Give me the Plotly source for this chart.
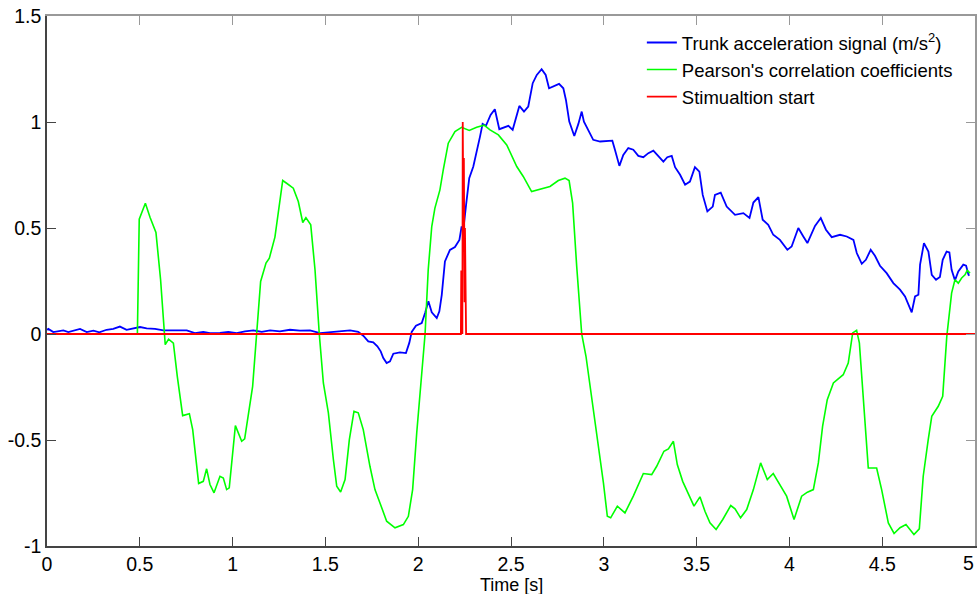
import plotly.graph_objects as go

# ---- data ----
t_blue = [0.0, 0.007, 0.034, 0.061, 0.088, 0.115, 0.142, 0.178, 0.214, 0.25, 0.282, 0.321, 0.357, 0.393, 0.429, 0.465, 0.501, 0.537, 0.582, 0.627, 0.672, 0.717, 0.753, 0.797, 0.842, 0.878, 0.932, 0.977, 1.022, 1.067, 1.112, 1.157, 1.202, 1.255, 1.309, 1.363, 1.417, 1.471, 1.525, 1.579, 1.633, 1.677, 1.704, 1.731, 1.758, 1.78, 1.798, 1.812, 1.83, 1.848, 1.866, 1.902, 1.934, 1.952, 1.965, 1.988, 2.019, 2.037, 2.055, 2.073, 2.1, 2.114, 2.127, 2.144, 2.171, 2.198, 2.222, 2.234, 2.243, 2.258, 2.275, 2.297, 2.315, 2.333, 2.347, 2.365, 2.39, 2.413, 2.437, 2.462, 2.486, 2.509, 2.531, 2.545, 2.57, 2.593, 2.617, 2.639, 2.665, 2.687, 2.705, 2.732, 2.759, 2.782, 2.796, 2.814, 2.841, 2.863, 2.881, 2.893, 2.917, 2.943, 2.98, 3.016, 3.046, 3.06, 3.084, 3.105, 3.132, 3.159, 3.186, 3.213, 3.24, 3.267, 3.294, 3.321, 3.342, 3.366, 3.384, 3.411, 3.438, 3.464, 3.491, 3.515, 3.533, 3.558, 3.587, 3.599, 3.63, 3.662, 3.707, 3.752, 3.785, 3.806, 3.833, 3.856, 3.886, 3.913, 3.949, 3.989, 4.012, 4.048, 4.075, 4.097, 4.138, 4.169, 4.197, 4.228, 4.273, 4.309, 4.345, 4.363, 4.39, 4.412, 4.438, 4.461, 4.488, 4.524, 4.56, 4.596, 4.623, 4.641, 4.659, 4.677, 4.695, 4.704, 4.725, 4.749, 4.767, 4.79, 4.811, 4.826, 4.847, 4.862, 4.874, 4.892, 4.91, 4.937, 4.952, 4.965, 4.97]
v_blue = [0.02, 0.024, 0.009, 0.014, 0.017, 0.009, 0.017, 0.024, 0.009, 0.016, 0.008, 0.02, 0.024, 0.035, 0.02, 0.027, 0.033, 0.027, 0.024, 0.017, 0.017, 0.014, 0.017, 0.004, 0.01, 0.004, 0.005, 0.01, 0.004, 0.012, 0.017, 0.01, 0.017, 0.012, 0.02, 0.016, 0.017, 0.004, 0.008, 0.012, 0.017, 0.01, -0.008, -0.035, -0.039, -0.058, -0.082, -0.113, -0.137, -0.129, -0.093, -0.087, -0.09, -0.042, 0.01, 0.039, 0.052, 0.099, 0.154, 0.102, 0.075, 0.107, 0.185, 0.342, 0.397, 0.41, 0.444, 0.507, 0.49, 0.609, 0.735, 0.79, 0.869, 0.931, 0.991, 0.982, 1.033, 1.06, 0.966, 0.975, 0.982, 0.963, 1.025, 1.076, 1.049, 1.073, 1.183, 1.222, 1.249, 1.222, 1.159, 1.17, 1.18, 1.159, 1.104, 1.002, 0.934, 0.991, 1.049, 1.002, 0.963, 0.916, 0.908, 0.912, 0.912, 0.869, 0.793, 0.845, 0.877, 0.869, 0.84, 0.834, 0.853, 0.865, 0.837, 0.813, 0.834, 0.84, 0.787, 0.751, 0.704, 0.719, 0.787, 0.766, 0.656, 0.578, 0.601, 0.656, 0.667, 0.601, 0.562, 0.57, 0.547, 0.62, 0.646, 0.539, 0.515, 0.468, 0.444, 0.397, 0.413, 0.5, 0.46, 0.429, 0.51, 0.547, 0.492, 0.457, 0.468, 0.46, 0.444, 0.382, 0.331, 0.35, 0.397, 0.369, 0.322, 0.287, 0.24, 0.209, 0.177, 0.138, 0.102, 0.177, 0.185, 0.327, 0.429, 0.389, 0.279, 0.256, 0.269, 0.35, 0.389, 0.385, 0.303, 0.253, 0.295, 0.327, 0.322, 0.279, 0.275]

t_green = [0.0, 0.487, 0.497, 0.53, 0.555, 0.587, 0.612, 0.637, 0.655, 0.681, 0.702, 0.731, 0.767, 0.785, 0.817, 0.842, 0.86, 0.878, 0.9, 0.932, 0.95, 0.968, 0.982, 1.015, 1.049, 1.065, 1.108, 1.13, 1.151, 1.18, 1.198, 1.228, 1.27, 1.291, 1.327, 1.354, 1.378, 1.395, 1.421, 1.444, 1.467, 1.489, 1.516, 1.543, 1.561, 1.582, 1.606, 1.629, 1.654, 1.677, 1.704, 1.74, 1.767, 1.794, 1.83, 1.875, 1.92, 1.947, 1.97, 1.992, 2.019, 2.037, 2.054, 2.073, 2.09, 2.117, 2.135, 2.162, 2.198, 2.234, 2.275, 2.315, 2.355, 2.387, 2.432, 2.477, 2.531, 2.566, 2.611, 2.656, 2.71, 2.755, 2.791, 2.813, 2.832, 2.854, 2.881, 2.904, 2.929, 2.971, 2.998, 3.019, 3.037, 3.073, 3.114, 3.159, 3.213, 3.258, 3.285, 3.324, 3.348, 3.375, 3.396, 3.425, 3.455, 3.486, 3.518, 3.545, 3.572, 3.605, 3.641, 3.684, 3.707, 3.737, 3.77, 3.806, 3.845, 3.881, 3.913, 3.949, 3.985, 4.025, 4.066, 4.097, 4.129, 4.156, 4.179, 4.204, 4.237, 4.29, 4.317, 4.341, 4.362, 4.377, 4.402, 4.425, 4.443, 4.47, 4.497, 4.533, 4.564, 4.596, 4.628, 4.671, 4.7, 4.721, 4.748, 4.767, 4.802, 4.826, 4.848, 4.874, 4.892, 4.91, 4.928, 4.946, 4.958, 4.973]
v_green = [0.0, 0.0, 0.542, 0.617, 0.551, 0.479, 0.256, -0.05, -0.024, -0.043, -0.2, -0.385, -0.376, -0.451, -0.705, -0.695, -0.636, -0.71, -0.749, -0.671, -0.679, -0.734, -0.726, -0.432, -0.506, -0.495, -0.247, 0.0, 0.248, 0.335, 0.358, 0.457, 0.724, 0.711, 0.688, 0.625, 0.526, 0.549, 0.515, 0.303, 0.0, -0.231, -0.372, -0.592, -0.718, -0.745, -0.687, -0.498, -0.365, -0.372, -0.451, -0.624, -0.734, -0.797, -0.883, -0.914, -0.899, -0.86, -0.734, -0.467, -0.168, 0.0, 0.303, 0.507, 0.594, 0.68, 0.774, 0.9, 0.955, 0.975, 0.96, 0.975, 0.985, 0.963, 0.939, 0.892, 0.79, 0.743, 0.672, 0.683, 0.696, 0.724, 0.735, 0.724, 0.617, 0.319, 0.0, -0.105, -0.262, -0.53, -0.702, -0.86, -0.867, -0.812, -0.844, -0.765, -0.658, -0.663, -0.624, -0.553, -0.542, -0.506, -0.616, -0.695, -0.749, -0.812, -0.768, -0.836, -0.891, -0.922, -0.875, -0.809, -0.825, -0.867, -0.828, -0.734, -0.608, -0.687, -0.658, -0.71, -0.765, -0.875, -0.765, -0.746, -0.734, -0.608, -0.435, -0.31, -0.231, -0.192, -0.137, 0.005, 0.017, -0.042, -0.357, -0.632, -0.632, -0.632, -0.734, -0.891, -0.941, -0.914, -0.899, -0.946, -0.919, -0.671, -0.498, -0.388, -0.341, -0.294, -0.011, 0.193, 0.256, 0.24, 0.264, 0.279, 0.3, 0.287]

t_red = [0.0, 2.230, 2.232, 2.234, 2.238, 2.240, 2.244, 2.246, 2.250, 2.252, 2.256, 2.258, 5.0]
v_red = [0.0, 0.0, 0.3, 0.0, 0.0, 1.0, 0.45, 0.83, 0.15, 0.5, 0.15, 0.0, 0.0]

names = ["Trunk acceleration signal (m/s<sup>2</sup>)",
         "Pearson's correlation coefficients",
         "Stimualtion start"]
x_title = "Time [s]"
x_ticks = [0, 0.5, 1, 1.5, 2, 2.5, 3, 3.5, 4, 4.5, 5]
y_ticks = [-1, -0.5, 0, 0.5, 1, 1.5]

assert len(t_blue) == len(v_blue), (len(t_blue), len(v_blue))
assert len(t_green) == len(v_green), (len(t_green), len(v_green))
assert len(t_red) == len(v_red)

FONT = "Liberation Sans, Arial, sans-serif"
TICK_SIZE = 19.5

# the last x tick label sits flush against the right edge, as in the reference
x_ticktext = [f"{v:g}" for v in x_ticks]
last_label = x_ticktext[-1]
x_ticktext[-1] = ""

fig = go.Figure()
fig.add_trace(go.Scatter(x=t_blue, y=v_blue, mode="lines", name=names[0],
                         line=dict(color="#0000FF", width=1.8)))
fig.add_trace(go.Scatter(x=t_green, y=v_green, mode="lines", name=names[1],
                         line=dict(color="#00FF00", width=1.6)))
fig.add_trace(go.Scatter(x=t_red, y=v_red, mode="lines", name=names[2],
                         line=dict(color="#FF0000", width=1.8)))
# invisible trace so the top/right frame axes get drawn
fig.add_trace(go.Scatter(x=[0], y=[0], xaxis="x2", yaxis="y2", mode="markers",
                         marker=dict(opacity=0), showlegend=False, hoverinfo="skip"))

fig.update_layout(
    width=978, height=594,
    margin=dict(l=47, r=3, t=16, b=48, autoexpand=False),
    paper_bgcolor="white", plot_bgcolor="white",
    font=dict(family=FONT, size=TICK_SIZE, color="#000000"),
    showlegend=True,
    legend=dict(x=0.641, y=0.985, xanchor="left", yanchor="top",
                bgcolor="rgba(255,255,255,0)", borderwidth=0,
                font=dict(size=18.5, family=FONT), itemwidth=30,
                tracegroupgap=0),
    xaxis=dict(range=[0, 5], tickvals=x_ticks, ticktext=x_ticktext,
               ticks="inside", ticklen=9, tickwidth=1, tickcolor="#444",
               showline=True, linecolor="#444", linewidth=1.5, automargin=False,
               showgrid=False, zeroline=False, ticklabeloverflow="allow",
               tickfont=dict(size=TICK_SIZE)),
    yaxis=dict(range=[-1, 1.5], tickvals=y_ticks, ticktext=[f"{v:g}" for v in y_ticks],
               ticks="inside", ticklen=9, tickwidth=1, tickcolor="#444",
               showline=True, linecolor="#444", linewidth=1.5, automargin=False,
               showgrid=False, zeroline=False, ticklabeloverflow="allow",
               tickfont=dict(size=TICK_SIZE)),
    xaxis2=dict(range=[0, 5], overlaying="x", side="top", tickvals=x_ticks,
                showticklabels=False, ticks="inside", ticklen=9, tickwidth=1,
                tickcolor="#999", showline=True, linecolor="#999", linewidth=1.5,
                showgrid=False, zeroline=False, automargin=False),
    yaxis2=dict(range=[-1, 1.5], overlaying="y", side="right", tickvals=y_ticks,
                showticklabels=False, ticks="inside", ticklen=9, tickwidth=1,
                tickcolor="#999", showline=True, linecolor="#999", linewidth=1.5,
                showgrid=False, zeroline=False, automargin=False),
    annotations=[
        dict(text=x_title, xref="paper", yref="paper", x=0.5, y=-0.073,
             xanchor="center", yanchor="middle", showarrow=False,
             font=dict(size=18, family=FONT)),
        dict(text=last_label, xref="x", yref="paper", x=x_ticks[-1], y=-0.032,
             xanchor="right", yanchor="middle", showarrow=False, borderpad=0,
             font=dict(size=TICK_SIZE, family=FONT)),
    ],
)

fig.write_html("out.html")
